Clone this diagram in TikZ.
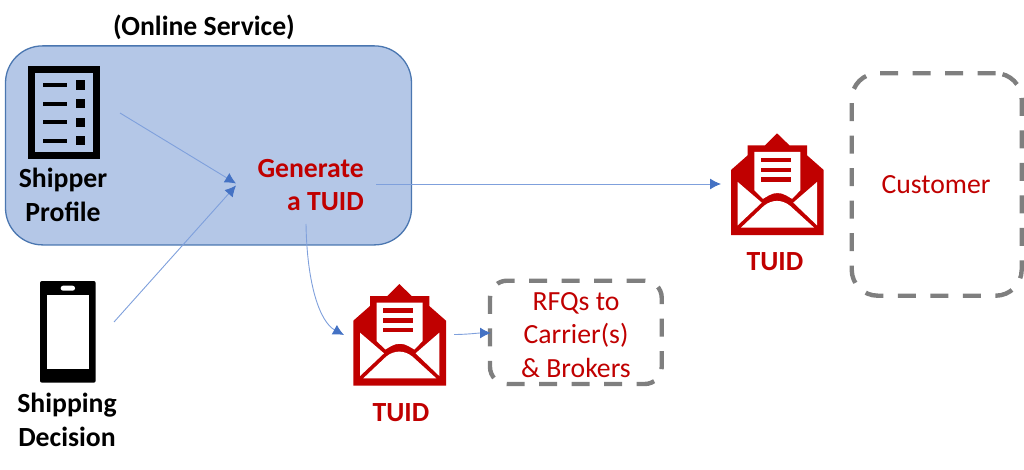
\documentclass[tikz,border=0pt]{standalone}
\usepackage{fontspec}
\setmainfont{Carlito}
\usetikzlibrary{arrows.meta}
\definecolor{tuidred}{HTML}{C00000}
\definecolor{boxfill}{HTML}{B4C7E7}
\definecolor{boxedge}{HTML}{4A76B0}
\definecolor{arrowline}{HTML}{7FA0DC}
\definecolor{arrowhead}{HTML}{4472C4}
\definecolor{dashgray}{HTML}{7F7F7F}
\tikzset{
  lbl/.style={inner sep=0pt,align=center,font=\fontsize{27.7}{33.5}\selectfont},
  blacklbl/.style={lbl,text=black,font=\fontsize{27.7}{33.5}\selectfont\bfseries},
  redlbl/.style={lbl,text=tuidred},
  redbold/.style={lbl,text=tuidred,font=\fontsize{27.7}{33.5}\selectfont\bfseries},
  dashbox/.style={draw=dashgray,line width=4.4pt,dash pattern=on 18pt off 14.5pt,rectangle,inner sep=0pt},
  flow/.style={draw=arrowline,line width=0.9pt,-{Latex[length=11pt,width=11pt,color=arrowhead]}},
  envelope/.pic={
    \fill[tuidred] (0,36.7)--(16.7,22)--(16.7,12)--(34,12)--(46,0)--(58.4,12)--(76,12)--(76,22)--(92.7,36.7)--(92.7,101.7)--(0,101.7)--cycle;
    \fill[white] (23.4,18.7)--(69.4,18.7)--(69.4,57)--(61,65.5)--(55,62) .. controls (50,59) and (43,59) .. (38,62)--(32,65.5)--(23.4,57)--cycle;
    \fill[tuidred] (30,24.4) rectangle (60,29);
    \fill[tuidred] (30,34.4) rectangle (60,39);
    \fill[tuidred] (30,43.7) rectangle (60,48.3);
    \fill[white] (6.7,48.7)--(30.7,69.3)--(6.7,92)--cycle;
    \fill[white] (86,48.7)--(62.3,69.3)--(86,92)--cycle;
    \fill[white] (10,94.3)--(33,72.5) .. controls (41,66) and (51,66) .. (59,72.5)--(83,94.3)--cycle;
  }
}
\begin{document}
\begin{tikzpicture}[x=1pt,y=-1pt]
\useasboundingbox (0,0) rectangle (1024,470);
% service box
\node[draw=boxedge,fill=boxfill,line width=1.3pt,rectangle,rounded corners=37pt,minimum width=406pt,minimum height=199pt,inner sep=0pt] (service) at (208.5,145.4) {};
\node[blacklbl] (title) at (204,27) {(Online Service)};
% profile icon
\node[draw=black,line width=7pt,rectangle,minimum width=65pt,minimum height=86pt,inner sep=0pt] (profile) at (64.2,113) {};
\foreach \yy in {85,103.7,122.3,140.7}{
  \fill[black] (43.3,\yy-2) rectangle (66.7,\yy+2);
  \fill[black] (76,\yy-4.7) rectangle (85.3,\yy+4.7);
}
\node[blacklbl] (shipper) at (63,195) {Shipper\\Profile};
% phone
\node[fill=black,rectangle,rounded corners=2pt,minimum width=55.7pt,minimum height=101.7pt,inner sep=0pt] (phone) at (67.85,331.85) {};
\fill[white] (46.7,295) rectangle (89,369);
\fill[white,rounded corners=2.4pt] (60.7,285.7) rectangle (75,290.7);
\node[blacklbl] (decision) at (67,420) {Shipping\\Decision};
% generate
\node[redbold,align=right,anchor=east] (generate) at (364,185) {Generate\\a TUID};
% envelopes
\pic at (353.3,284) {envelope};
\pic at (731,133.3) {envelope};
\node[redbold] (tuidb) at (401,413) {TUID};
\node[redbold] (tuidr) at (775,262) {TUID};
% dashed boxes
\node[dashbox,rounded corners=17pt,minimum width=171.7pt,minimum height=103.3pt] (rfq) at (575.85,332.35) {};
\node[redlbl] (rfqtext) at (576,335) {RFQs to\\Carrier(s)\\\& Brokers};
\node[dashbox,rounded corners=26pt,minimum width=170pt,minimum height=222.4pt] (customer) at (936.7,184.5) {};
\node[redlbl] (custtext) at (936,185) {Customer};
% connector ends
\coordinate (a1) at (120,113);
\coordinate (a2) at (114,322);
\coordinate (hub1) at (236,183.5);
\coordinate (hub2) at (236,185.5);
\coordinate (g1) at (376,184);
\coordinate (e1) at (721,184);
\coordinate (g2) at (306,224);
\coordinate (e2) at (344,335);
\coordinate (e3) at (454,334.5);
\coordinate (r1) at (491,333);
\draw[flow] (a1) -- (hub1);
\draw[flow] (a2) -- (hub2);
\draw[flow] (g1) -- (e1);
\draw[flow] (g2) .. controls (307,285) and (320,322) .. (e2);
\draw[flow] (e3) .. controls (467,334.5) and (478,333) .. (r1);
\end{tikzpicture}
\end{document}
